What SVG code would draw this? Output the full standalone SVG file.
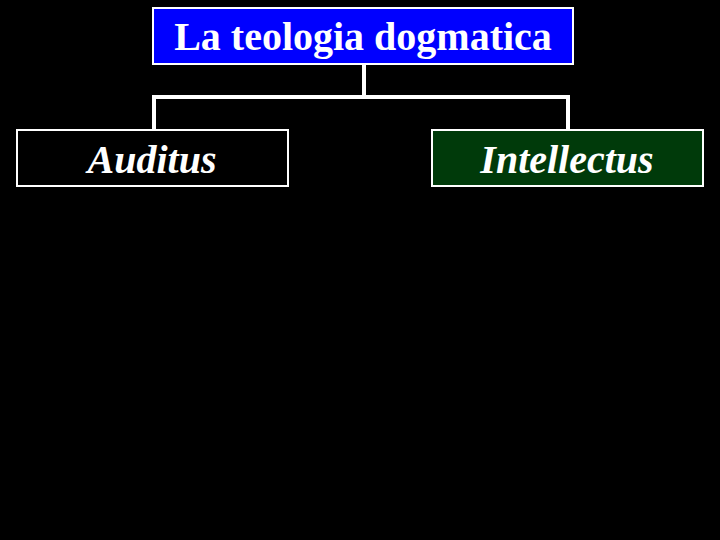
<svg xmlns="http://www.w3.org/2000/svg" width="720" height="540" viewBox="0 0 720 540">
<style>
.box{stroke:#ffffff;stroke-width:2}
.t{fill:#ffffff;font-family:"Liberation Serif","Times New Roman",serif;font-weight:bold;text-anchor:middle;font-size:40px}
.conn{fill:none;stroke:#ffffff;stroke-width:4}
</style>
<rect width="720" height="540" fill="#000000"/>
<g id="connectors">
<path class="conn" d="M364 64 V97"/>
<path class="conn" d="M154 130 V97 H568 V130"/>
</g>
<g id="root">
<rect class="box" x="153" y="8" width="420" height="56" fill="#0000ff"/>
<text class="t" x="363" y="50">La teologia dogmatica</text>
</g>
<g id="auditus">
<rect class="box" x="17" y="130" width="271" height="56" fill="#000000"/>
<text class="t" x="152" y="173" font-style="italic">Auditus</text>
</g>
<g id="intellectus">
<rect class="box" x="432" y="130" width="271" height="56" fill="#003a0a"/>
<text class="t" x="567" y="173" font-style="italic">Intellectus</text>
</g>
</svg>
